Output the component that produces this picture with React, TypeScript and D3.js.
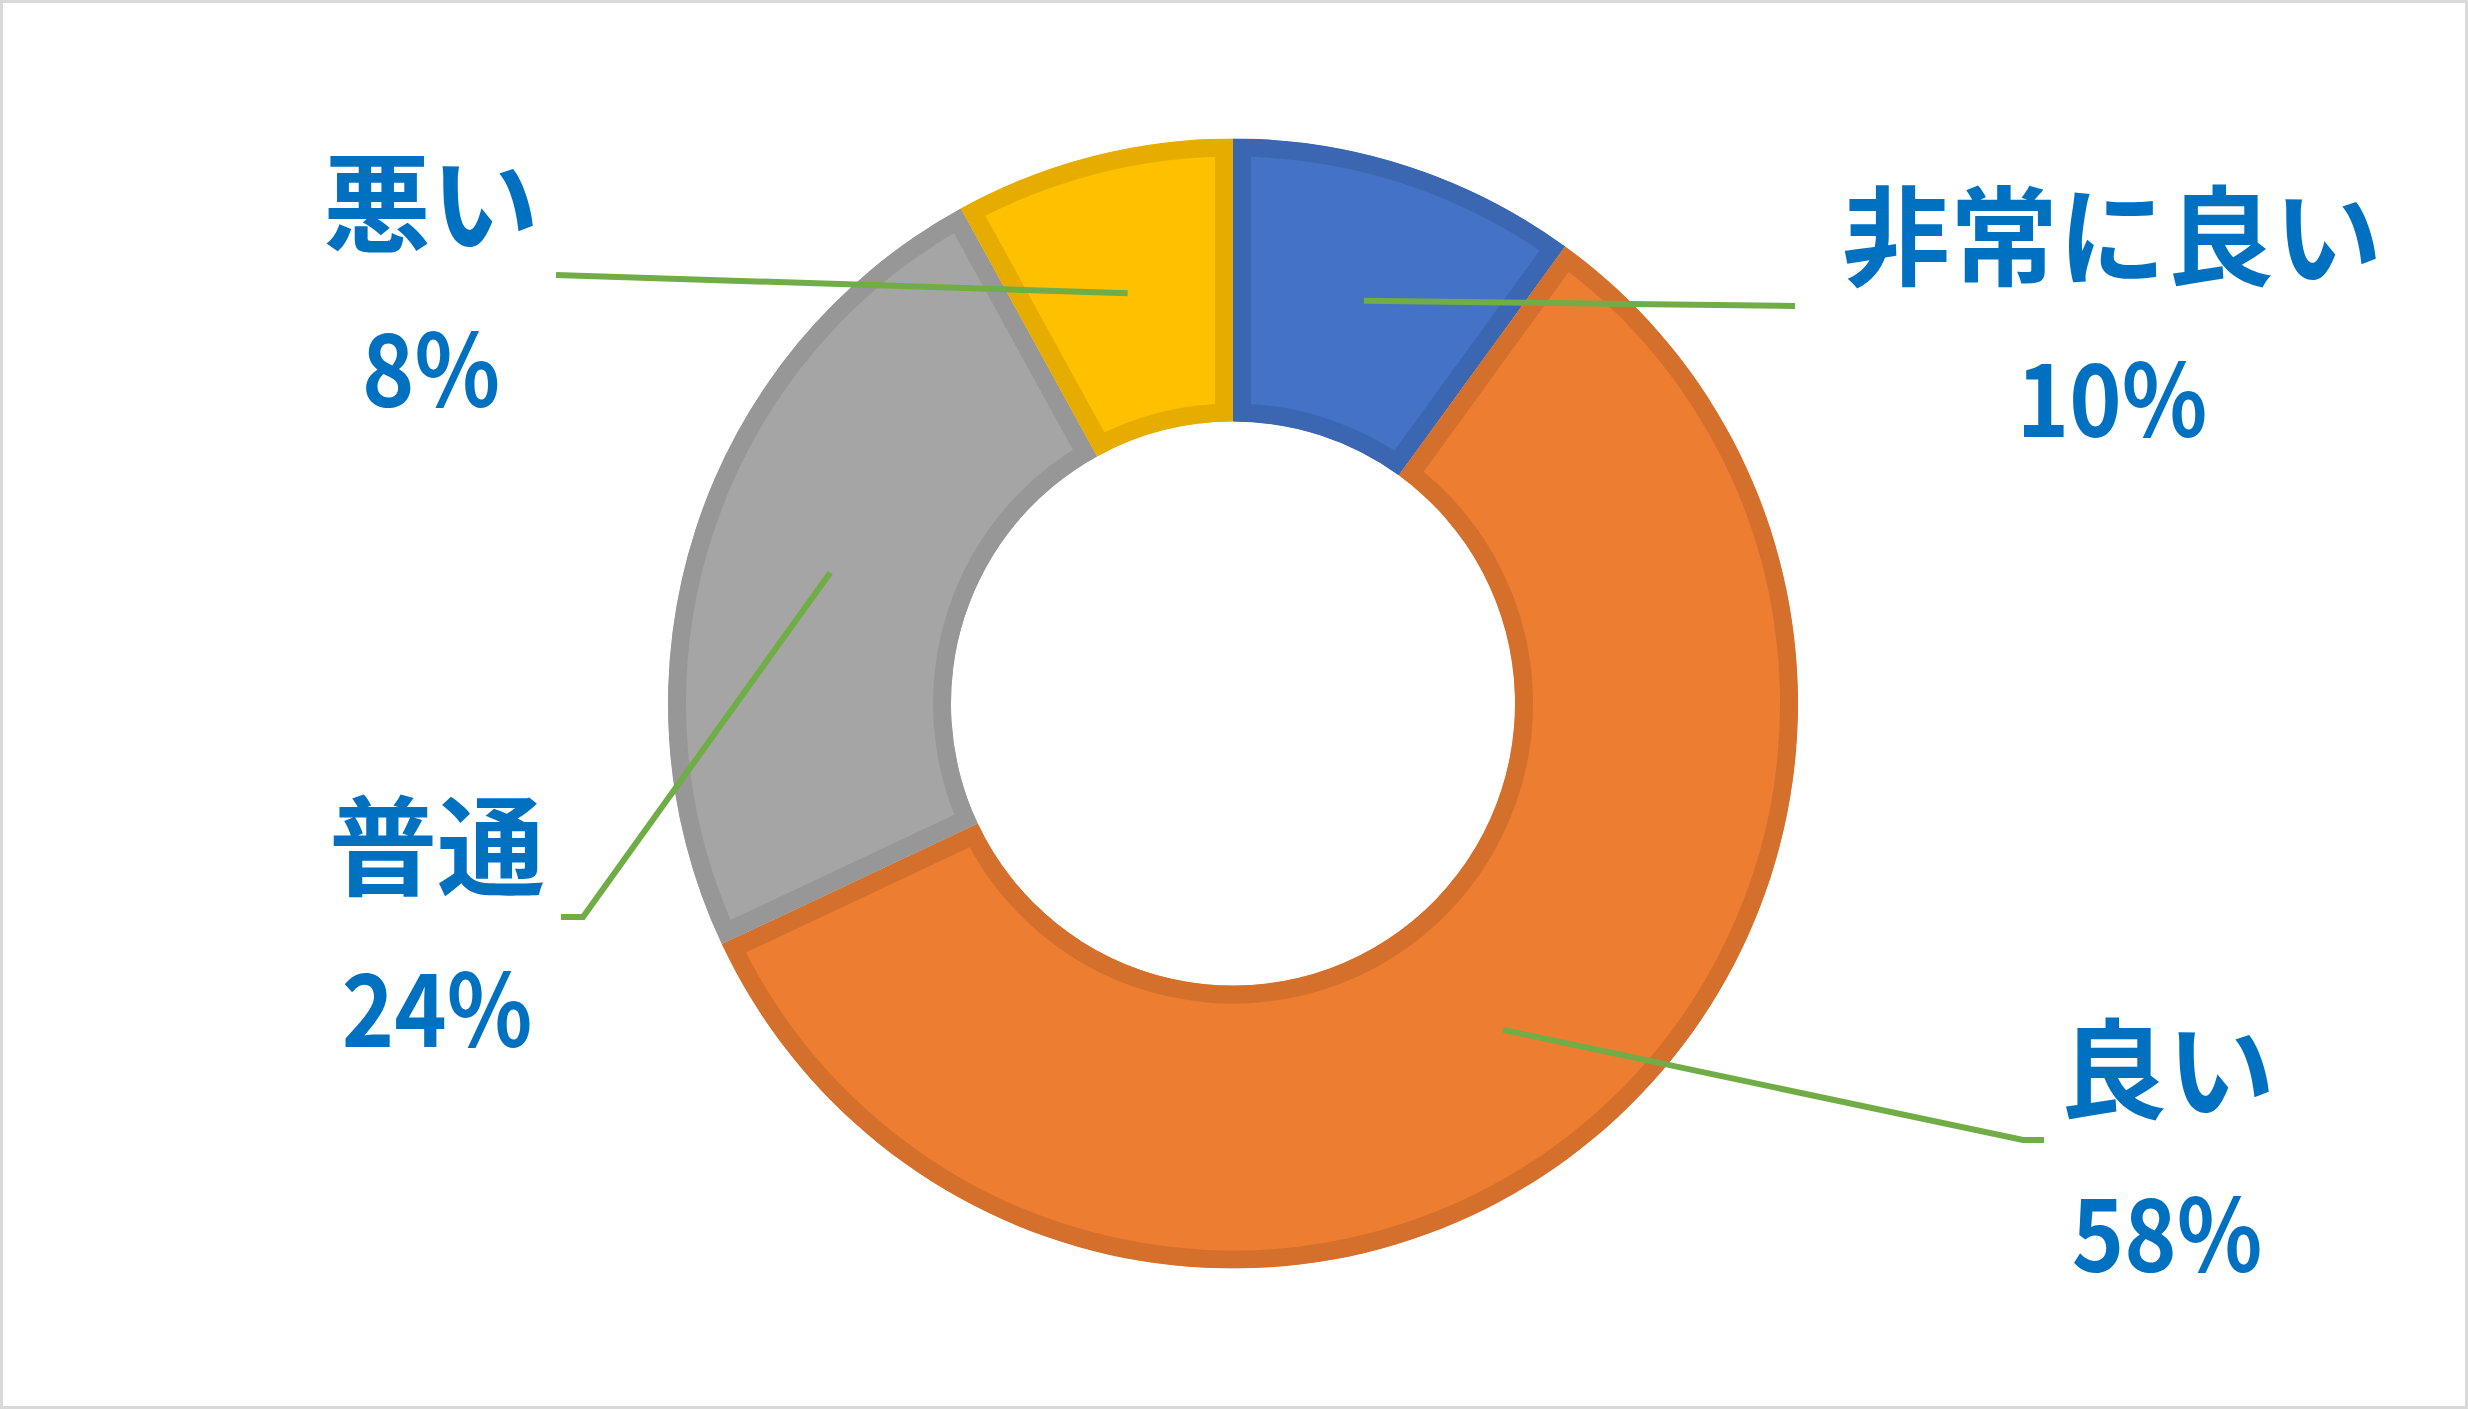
import { useMemo } from 'react'
import * as d3 from 'd3'

// ---- Data ----
const CATEGORIES = ['非常に良い', '良い', '普通', '悪い']
const VALUES = [10, 58, 24, 8]
const PCT_LABELS = ['10%', '58%', '24%', '8%']

// ---- Styles ----
const FILLS = ['#4472C4', '#ED7D31', '#A5A5A5', '#FFC000']
const BORDERS = ['#3B66B2', '#D5702C', '#979797', '#E6AD00']
const LABEL_COLOR = '#0070C0'
const LEADER_COLOR = '#70AD47'

const W = 2468
const H = 1409
const CX = 1233
const CY = 703.5
const OUTER_R = 565
const INNER_R = 282
const BORDER_W = 18 // visible inset border band
const FONT_SIZE = 108
const PCT_FONT_SIZE = 101
const PCT_SQUEEZE = 0.88 // source font has narrower digits
const FONT = '"Noto Sans CJK JP", "Noto Sans", sans-serif'

// Labels were dragged by hand in the source chart: offsets from the centre.
// name/pct = baselines of the two lines, path = leader anchor points (elbow → end).
const LABEL_LAYOUT = [
  { dx: 879, name: -426.5, pct: -266.5, path: [[562, -397.5]] },
  { dx: 934, name: 406.5, pct: 568.5, path: [[790, 436.5], [811, 436.5]] },
  { dx: -796, name: 183.5, pct: 343.5, path: [[-650, 213.5], [-672, 213.5]] },
  { dx: -802, name: -459.5, pct: -296.5, path: [[-677, -428.5]] },
]

export default function App() {
  const slices = useMemo(() => {
    const pie = d3
      .pie<number>()
      .sort(null)
      .startAngle(0)
      .endAngle(2 * Math.PI)
      .value((d) => d)
    return pie(VALUES)
  }, [])

  const arc = d3
    .arc<d3.PieArcDatum<number>>()
    .innerRadius(INNER_R)
    .outerRadius(OUTER_R)

  const line = d3.line()

  return (
    <svg
      width={W}
      height={H}
      style={{ position: 'absolute', left: 0, top: 0, display: 'block' }}
    >
      <rect x={0} y={0} width={W} height={H} fill="#fff" />
      <rect
        x={1.5}
        y={1.5}
        width={W - 3}
        height={H - 3}
        fill="none"
        stroke="#D9D9D9"
        strokeWidth={3}
      />
      <defs>
        {slices.map((s, i) => (
          <clipPath key={i} id={`clip-${i}`}>
            <path d={arc(s) ?? ''} />
          </clipPath>
        ))}
      </defs>
      <g transform={`translate(${CX},${CY})`}>
        {/* ---- Slices with inset border ---- */}
        {slices.map((s, i) => (
          <path
            key={CATEGORIES[i]}
            d={arc(s) ?? ''}
            fill={FILLS[i]}
            stroke={BORDERS[i]}
            strokeWidth={BORDER_W * 2}
            strokeLinejoin="miter"
            clipPath={`url(#clip-${i})`}
          />
        ))}

        {/* ---- Leader lines ---- */}
        {slices.map((s, i) => {
          const start = arc.centroid(s) as [number, number]
          const pts = [start, ...(LABEL_LAYOUT[i].path as [number, number][])]
          return (
            <path
              key={`leader-${i}`}
              d={line(pts) ?? ''}
              fill="none"
              stroke={LEADER_COLOR}
              strokeWidth={6}
              strokeLinejoin="miter"
            />
          )
        })}

        {/* ---- Data labels ---- */}
        {slices.map((_, i) => {
          const l = LABEL_LAYOUT[i]
          return (
            <g
              key={`label-${i}`}
              fill={LABEL_COLOR}
              fontFamily={FONT}
              fontWeight={700}
              textAnchor="middle"
            >
              <text x={l.dx} y={l.name} fontSize={FONT_SIZE}>
                {CATEGORIES[i]}
              </text>
              <text
                transform={`translate(${l.dx},${l.pct}) scale(${PCT_SQUEEZE},1)`}
                fontSize={PCT_FONT_SIZE}
              >
                {PCT_LABELS[i]}
              </text>
            </g>
          )
        })}
      </g>
    </svg>
  )
}
